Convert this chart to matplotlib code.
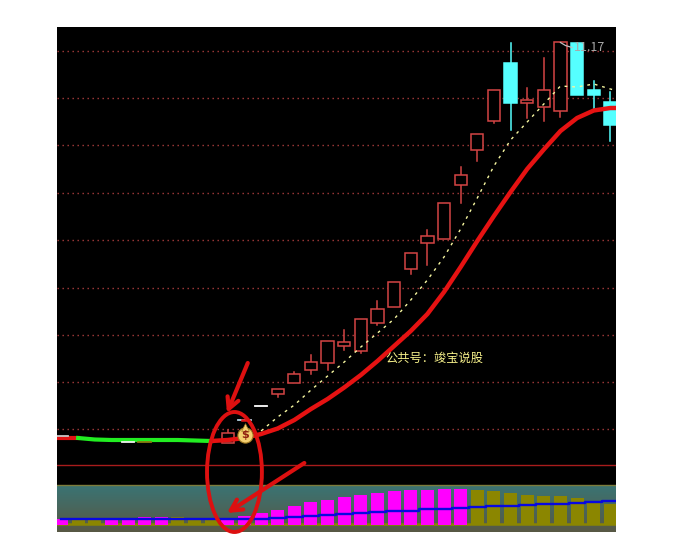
import matplotlib
matplotlib.use("Agg")
import matplotlib.pyplot as plt
from matplotlib.patches import Ellipse, Rectangle
import numpy as np

plt.rcParams['font.family'] = ['Noto Sans CJK SC', 'DejaVu Sans']

# candle data, y values are read in picture rows (small = high)
red_idx = [10, 13, 14, 15, 16, 17, 18, 19, 20, 21, 22, 23, 24, 25, 26, 28, 29, 30]
red_top = [433.3, 389.3, 374.3, 362.3, 341.3, 342.3, 319.3, 309.3, 282.3, 253.3, 236.3, 203.3, 174.7, 134.3, 90.3, 100.3, 90.3, 42.3]
red_bot = [442.7, 393.5, 383.3, 369.7, 363.3, 346.3, 350.7, 322.7, 307.3, 268.7, 243.3, 239.3, 185.3, 149.7, 120.7, 102.7, 107.3, 110.7]
red_hi = [430, 389.3, 372.3, 355, 341.3, 330, 319.3, 301, 282.3, 253.3, 230, 203.3, 167.3, 134.3, 90.3, 88.3, 58, 42.3]
red_lo = [442.7, 396.7, 383.3, 373.7, 370, 349.7, 353.3, 325, 307.3, 273.7, 264.7, 239.3, 202.7, 161, 122.7, 117.7, 120.7, 116.7]

cyan_idx = [27, 31, 32, 33]
cyan_top = [63, 43.3, 90, 102]
cyan_bot = [102.7, 94.7, 94.7, 124.7]
cyan_hi = [43.3, 43.3, 81, 92.3]
cyan_lo = [129.7, 94.7, 109, 140.7]

# flat candles, just a dash
dash_idx = [0, 4, 5, 11, 12]
dash_level = [435.5, 441.5, 441.5, 420, 406.3]
dash_color = ['#c8c8c8', '#f0f0f0', '#8b7a10', '#b0d0e0', '#ffffff']

# slow line, starts one step left of the panel so it runs to the edge
ma_idx = list(range(-1, 35))
ma_slow = [438, 438, 438, 439.5, 440, 440, 440, 440, 440, 440.5, 441, 440, 438, 434, 428.5, 420, 409, 399, 387.5,
           375, 361, 346, 331, 314, 292, 267, 241, 216, 192, 169, 149.5, 131, 118, 110.5, 108, 108]
green_from = 2
green_to = 10

# fast dotted line
fast_idx = list(range(12, 35))
ma_fast = [431, 417, 405, 390, 376, 362, 347, 333, 319, 300, 280, 257, 229, 198, 166, 140, 122, 104, 86, 87, 84, 89, 93]

# lower panel
bar_idx = list(range(0, 34))
bar_top = [519.3, 520, 520, 518.7, 518.5, 516.7, 516.7, 517, 518.7, 518.7, 518.7, 516, 513, 510, 506, 502.3, 500,
           496.7, 495, 493, 491, 490, 490, 489, 488.7, 490, 491, 493, 495, 496, 496, 498, 501.6, 504]
bar_color = ['#ff00ff', '#8b8600', '#8b8600', '#ff00ff', '#ff00ff', '#ff00ff', '#ff00ff', '#8b8600', '#8b8600',
             '#8b8600', '#ff00ff', '#ff00ff', '#ff00ff', '#ff00ff', '#ff00ff', '#ff00ff', '#ff00ff', '#ff00ff',
             '#ff00ff', '#ff00ff', '#ff00ff', '#ff00ff', '#ff00ff', '#ff00ff', '#ff00ff', '#8b8600', '#8b8600',
             '#8b8600', '#8b8600', '#8b8600', '#8b8600', '#8b8600', '#8b8600', '#8b8600']
bar_base = 524.5
blue_line = [518.5, 519, 519, 519, 519, 519, 519, 519, 519, 519, 519, 519, 518.5, 518, 517, 516, 515,
             514, 513, 512, 511, 510.5, 509, 508.5, 507.5, 507, 506, 505.5, 505, 504, 503.5, 502.5, 501.5, 501]

grid_levels = [50.5, 97.5, 145, 192.5, 239.5, 287.5, 334.5, 381.5, 428.7]
red_rule = 465
band_top = 485
panel_top = 27
panel_bottom = 532

# hand drawn marks on top
arrow_tails = [(11.2, 363), (14.6, 463)]
arrow_tips = [(9.95, 413), (9.95, 513)]
circle_center = (10.4, 472)
circle_size = (3.3, 120)

bag_pos = (11.05, 434.7)


def draw_candles(ax, idx, top, bot, hi, lo, color, fill):
    for i, t, b, h, l in zip(idx, top, bot, hi, lo):
        ax.plot([i, i], [h, t], color=color, lw=1.1, zorder=3)
        ax.plot([i, i], [b, l], color=color, lw=1.1, zorder=3)
        ax.add_patch(Rectangle((i - 0.37, t), 0.74, b - t, facecolor=color if fill else 'black',
                               edgecolor=color, lw=1.1, zorder=3))


fig = plt.figure(figsize=(6.74, 5.59), dpi=100)
ax = fig.add_axes([57 / 674, 1 - panel_bottom / 559, 559 / 674, (panel_bottom - panel_top) / 559])
ax.set_xlim(-0.27, 33.34)
ax.set_ylim(panel_bottom, panel_top)
ax.set_facecolor('black')
ax.axis('off')
ax.add_patch(Rectangle((-0.27, panel_top), 33.61, panel_bottom - panel_top, facecolor='black', zorder=0))

# teal to olive band behind the bars
shade = np.linspace(0, 1, 64)[:, None]
band = np.zeros((64, 1, 3))
for c, (a, b) in enumerate(zip((0x3a, 0x74, 0x74), (0x58, 0x58, 0x44))):
    band[:, :, c] = ((a + (b - a) * shade) / 255)
ax.imshow(band, extent=(-0.27, 33.34, panel_bottom, band_top), aspect='auto', zorder=1, origin='upper')
ax.set_xlim(-0.27, 33.34)
ax.set_ylim(panel_bottom, panel_top)
ax.axhline(band_top, color='#7d7d3c', lw=1, zorder=2)

for g in grid_levels:
    ax.axhline(g, color='#a83c3c', lw=1, ls=(0, (1, 2.6)), zorder=1)
ax.axhline(red_rule, color='#a81c1c', lw=1, zorder=1)

ax.axhline(bar_base - 1, color='#8b8600', lw=1.8, zorder=2)
ax.bar(bar_idx, [bar_base - t for t in bar_top], bottom=bar_top, width=0.78, color=bar_color, zorder=3)
ax.step(bar_idx + [34], blue_line + [501], where='mid', color='#0808e0', lw=1.7, zorder=4)

draw_candles(ax, red_idx, red_top, red_bot, red_hi, red_lo, '#d44444', False)
draw_candles(ax, cyan_idx, cyan_top, cyan_bot, cyan_hi, cyan_lo, '#55ffff', True)
for i, y, c in zip(dash_idx, dash_level, dash_color):
    ax.plot([i - 0.37, i + 0.37], [y, y], color=c, lw=1.3, zorder=6)
ax.plot([10.85, 11.2], [420, 420], color='#e01818', lw=1.8, zorder=6)

ax.plot(fast_idx, ma_fast, color='#f6f6a0', lw=1, ls=(0, (2, 3.5)), zorder=4)

ax.plot(ma_idx[:green_from + 1], ma_slow[:green_from + 1], color='#e01414', lw=3, zorder=5)
ax.plot(ma_idx[green_from:green_to + 1], ma_slow[green_from:green_to + 1], color='#22ee22', lw=3, zorder=5)
ax.plot(ma_idx[green_to:], ma_slow[green_to:], color='#e61212', lw=3.2, zorder=5, solid_capstyle='round')

# money bag icon
ax.scatter([bag_pos[0]], [bag_pos[1]], s=120, color='#f4d070', edgecolor='#a07820', lw=0.8, zorder=6)
ax.scatter([bag_pos[0]], [bag_pos[1] - 7.5], s=30, marker='^', color='#f4d070', edgecolor='#a07820', lw=0.5, zorder=6)
ax.text(bag_pos[0], bag_pos[1], '$', color='#902010', fontsize=8, fontweight='bold', ha='center', va='center',
        family='DejaVu Sans', zorder=7)

ax.plot([30.0, 30.3, 30.7], [42.5, 45.5, 47.5], color='#c0c0c0', lw=0.9, zorder=6)
ax.text(30.78, 47.7, '11.17', color='#a8a8a8', fontsize=9, ha='left', va='center', zorder=6)
ax.text(19.5, 358.5, '公共号：竣宝说股', color='#f6f08a', fontsize=8.8, ha='left', va='center', zorder=6)

# red circle and arrows drawn by hand
ax.add_patch(Ellipse(circle_center, circle_size[0], circle_size[1], fill=False, edgecolor='#dd1010', lw=2.8,
                     zorder=8, clip_on=False))
for tail, tip in zip(arrow_tails, arrow_tips):
    ax.annotate('', xy=tip, xytext=tail, zorder=8,
                arrowprops=dict(arrowstyle='->,head_length=0.8,head_width=0.42', color='#dd1010', lw=3,
                                shrinkA=0, shrinkB=0))

plt.savefig('out.png', dpi=100, facecolor='white')
plt.close()
